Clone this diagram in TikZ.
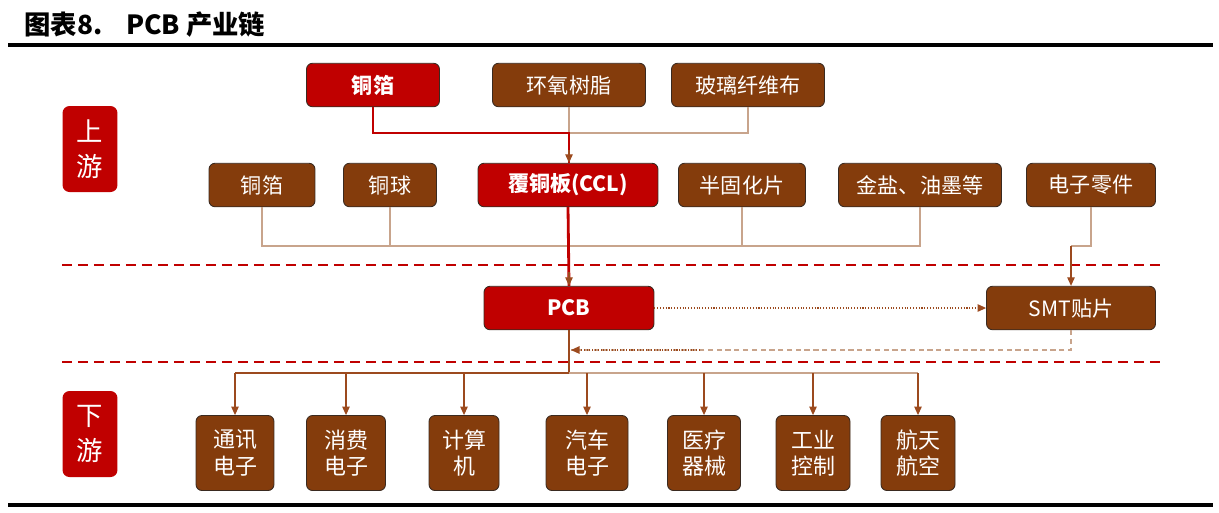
\documentclass[tikz,border=0pt]{standalone}
\usepackage{fontspec}
\newfontfamily\cjk{Noto Sans CJK SC}
\usetikzlibrary{arrows.meta}
\definecolor{chainred}{HTML}{C00000}
\definecolor{chainbrown}{HTML}{843C0C}
\definecolor{chainline}{HTML}{9C4A1E}
\definecolor{chaintan}{HTML}{C8A48C}
\definecolor{boxedge}{HTML}{3A2A20}
\newcommand{\rowheight}{0.87}
\newcommand{\tipsize}{length=0.17cm, width=0.15cm}

\begin{document}
\begin{tikzpicture}[x=0.02cm, y=-0.02cm,
    brownbox/.style={draw=boxedge, fill=chainbrown, line width=0.5pt, rounded corners=0.12cm,
        text=white, inner sep=0pt, align=center, minimum height=\rowheight cm,
        font=\cjk\fontsize{12}{15}\selectfont},
    redbox/.style={brownbox, fill=chainred, font=\cjk\bfseries\fontsize{12}{15}\selectfont},
    streambox/.style={fill=chainred, rounded corners=0.14cm, text=white, inner sep=0pt, align=center,
        minimum width=1.1cm, minimum height=1.72cm, font=\cjk\fontsize{15}{20}\selectfont},
    enduse/.style={brownbox, minimum height=1.5cm, font=\cjk\fontsize{12.5}{15}\selectfont},
    feed/.style={chaintan, line width=0.6pt},
    mainfeed/.style={chainred, line width=1.6pt},
    link/.style={chainline, line width=0.6pt},
    tip/.style={-{Triangle[\tipsize, color=chainline]}},
    layer/.style={chainred, line width=0.9pt, dash pattern=on 0.2cm off 0.12cm}]
        \useasboundingbox (0,0) rectangle (1219,512);

        %title
        \node[anchor=west, inner sep=0pt, font=\cjk\bfseries\fontsize{15}{17}\selectfont, name=title] at (24,25) {图表8.\hspace{0.9em}PCB 产业链};
        \draw[line width=1.8pt] (8,45) -- (1213,45);
        \draw[line width=2.4pt] (8,505) -- (1213,505);

        %stream labels
        \node[streambox, name=up  ] at (90,149) {上\\游};
        \node[streambox, name=down] at (90,434) {下\\游};

        %layers
        \draw[layer] (62,265) -- (1160,265);
        \draw[layer] (62,362) -- (1160,362);

        %raw materials
        \node[redbox  , minimum width=2.66cm, name=foil ] at (373,85) {铜箔};
        \node[brownbox, minimum width=3.06cm, name=epoxy] at (569,85) {环氧树脂};
        \node[brownbox, minimum width=3.06cm, name=glass] at (748,85) {玻璃纤维布};

        %materials
        \node[brownbox, minimum width=2.12cm, name=foiltwo ] at (262 ,185) {铜箔};
        \node[brownbox, minimum width=1.86cm, name=ball    ] at (390 ,185) {铜球};
        \node[redbox  , minimum width=3.60cm, name=ccl     ] at (568 ,185) {覆铜板(CCL)};
        \node[brownbox, minimum width=2.54cm, name=prepreg ] at (742 ,185) {半固化片};
        \node[brownbox, minimum width=3.26cm, name=ink     ] at (920 ,185) {金盐、油墨等};
        \node[brownbox, minimum width=2.58cm, name=parts   ] at (1091,185) {电子零件};

        %boards
        \node[redbox  , minimum width=3.40cm, name=pcb] at (569 ,308) {PCB};
        \node[brownbox, minimum width=3.38cm, name=smt] at (1071,308) {SMT贴片};

        %end uses
        \node[enduse, minimum width=1.56cm, name=comm ] at (235,453) {通讯\\电子};
        \node[enduse, minimum width=1.58cm, name=cons ] at (346,453) {消费\\电子};
        \node[enduse, minimum width=1.40cm, name=comp ] at (464,453) {计算\\机};
        \node[enduse, minimum width=1.64cm, name=auto ] at (587,453) {汽车\\电子};
        \node[enduse, minimum width=1.46cm, name=med  ] at (704,453) {医疗\\器械};
        \node[enduse, minimum width=1.48cm, name=ind  ] at (813,453) {工业\\控制};
        \node[enduse, minimum width=1.48cm, name=aero ] at (918,453) {航天\\航空};

        %junctions
        \coordinate (cclin) at (569,133);
        \coordinate (matbus) at (569,246);
        \coordinate (smtin) at (1071,246);
        \coordinate (pcbret) at (571,350);
        \coordinate (usebus) at (569,373);

        %upstream feeds
        \draw[feed] (epoxy.south) -- (cclin);
        \draw[feed] (glass.south) |- (cclin);
        \draw[mainfeed] (foil.south) |- (cclin) -- (cclin |- ccl.north);
        \draw[link, tip] (569,150) -- (cclin |- ccl.north);
        \draw[feed] (foiltwo.south) |- (matbus) -| (ink.south);
        \draw[feed] (ball.south) -- (ball.south |- matbus);
        \draw[feed] (prepreg.south) -- (prepreg.south |- matbus);
        \draw[mainfeed] (ccl.south) -- (pcb.north);
        \draw[link, tip] (569,272) -- (pcb.north);
        \draw[feed] (parts.south) |- (smtin);
        \draw[link, tip] (smtin) -- (smt.north);

        %assembly loop
        \draw[link, densely dotted, tip] (pcb.east) -- (smt.west);
        \draw[feed, densely dashed] (smt.south) |- (pcbret);
        \draw[link, densely dotted, tip] (700,350) -- (pcbret);

        %downstream
        \draw[link] (pcb.south) -- (usebus);
        \draw[link] (comm.north |- usebus) -- (usebus);
        \draw[feed] (usebus) -- (aero.north |- usebus);
        \foreach \use in {comm, cons, comp, auto, med, ind, aero}
            \draw[link, tip] (\use.north |- usebus) -- (\use.north);
\end{tikzpicture}
\end{document}
